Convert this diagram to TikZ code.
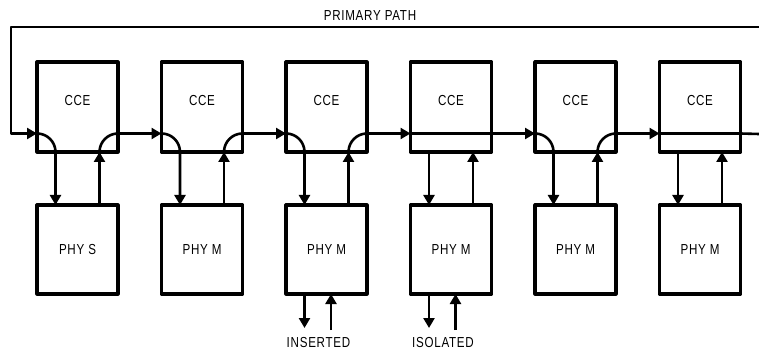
\documentclass[tikz,border=0pt]{standalone}
\usepackage{fontspec}
\setmainfont{Liberation Sans}[FakeStretch=0.8,LetterSpace=5]
\usetikzlibrary{arrows.meta,calc}
\begin{document}
\begin{tikzpicture}[x=1pt,y=1pt,line join=round,>={Triangle[length=10pt,width=11pt]},font=\fontsize{14.5}{16}\selectfont,
	box/.style={draw,line width=3.2pt,minimum width=81pt,inner sep=0pt,outer sep=0pt},
	link/.style={line width=2.6pt}]
	\useasboundingbox (0,0) rectangle (759,-352);
	\def\dx{124.5} \def\r{18.5}
	\foreach \i/\t in {1/S,2/M,3/M,4/M,5/M,6/M}{
		\pgfmathsetmacro{\cx}{77.5+\dx*(\i-1)}
		\node[box,minimum height=90pt,label={[yshift=6pt]center:CCE}] (cce\i) at (\cx,-107) {};
		\node[box,minimum height=89pt] (phy\i) at (\cx,-249.5) {PHY \t};
		\coordinate (in\i) at ([yshift=\r pt]cce\i.south west);
		\coordinate (out\i) at ([yshift=\r pt]cce\i.south east);
		\coordinate (dn\i) at ([xshift=\r pt]cce\i.south west);
		\coordinate (up\i) at ([xshift=-\r pt]cce\i.south east);
		\draw[link,->] (up\i |- phy\i.north) -- (up\i);
	}
	% cce routes through its phy
	\foreach \i in {1,2,3,5}{
		\draw[link,->] (in\i) arc[start angle=90,end angle=0,radius=\r pt] -- (dn\i |- phy\i.north);
		\draw[link] (up\i) arc[start angle=180,end angle=90,radius=\r pt];
	}
	% cce bypass
	\foreach \i in {4,6}{
		\draw[link,->] (dn\i) -- (dn\i |- phy\i.north);
		\draw[link] (in\i) -- (out\i);
	}
	\foreach \i [evaluate=\i as \j using int(\i+1)] in {1,...,5}
		\draw[link,->] (out\i) -- (in\j);
	\coordinate (east) at (759,-134);
	\coordinate (top) at (759,-27);
	\draw[link] (out6) -- (east);
	\draw[link,->] (top) -| ([xshift=-26pt]in1) -- (in1);
	\node (primary) at (370,-16) {PRIMARY PATH};
	\foreach \i/\s in {3/INSERTED,4/ISOLATED}{
		\coordinate (o\i) at ($(dn\i |- phy\i.south)+(0,-34)$);
		\coordinate (n\i) at ($(phy\i.south)+(4.5,-36)$);
		\draw[link,->] (dn\i |- phy\i.south) -- (o\i);
		\draw[link,->] (n\i) -- (n\i |- phy\i.south);
		\node (lab\i) at ($(phy\i.south)+(-8,-49)$) {\s};
	}
\end{tikzpicture}
\end{document}
